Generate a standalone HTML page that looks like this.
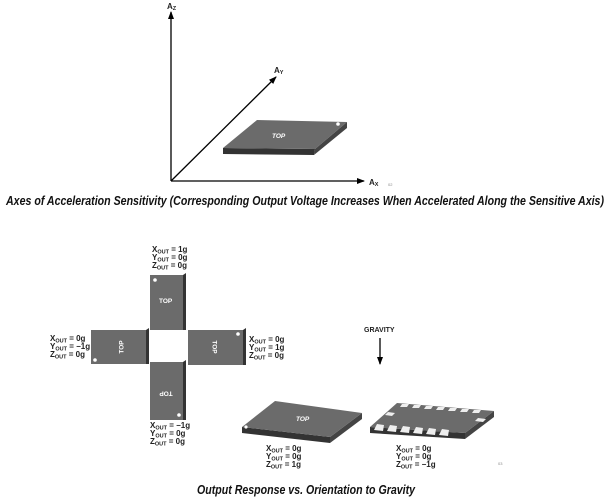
<!DOCTYPE html>
<html><head><meta charset="utf-8"><style>
html,body{margin:0;padding:0;background:#fff;}
svg{display:block;font-family:"Liberation Sans",Arial,sans-serif;}
.l{font-size:8px;font-weight:bold;fill:#222;}
.s{font-size:5.5px;}
.cap{font-size:13px;font-weight:bold;font-style:italic;fill:#111;}
.top{font-size:6.5px;font-weight:bold;fill:#fff;}
</style></head><body>
<svg width="610" height="500" viewBox="0 0 610 500">
<defs>
<marker id="ah" markerWidth="8" markerHeight="6" refX="7" refY="3" orient="auto" markerUnits="userSpaceOnUse"><path d="M0,0 L8,3 L0,6 Z" fill="#000"/></marker>
</defs>
<line x1="171" y1="181" x2="171" y2="12" stroke="#000" stroke-width="1.3" marker-end="url(#ah)"/>
<line x1="171" y1="181" x2="364" y2="181" stroke="#000" stroke-width="1.3" marker-end="url(#ah)"/>
<line x1="171" y1="181" x2="276" y2="77" stroke="#000" stroke-width="1.3" marker-end="url(#ah)"/>
<text x="167" y="9" class="l">A<tspan class="s" dy="1">Z</tspan></text>
<text x="369" y="185" class="l">A<tspan class="s" dy="1">X</tspan></text>
<text x="274" y="73" class="l">A<tspan class="s" dy="1">Y</tspan></text>
<text x="388" y="186" font-size="4" fill="#888">02</text>
<polygon points="223,148 315,149 314,155 223,154" fill="#333"/>
<polygon points="315,149 347,122 347,128 314,155" fill="#444"/>
<polygon points="223,148 257,120 347,122 315,149" fill="#6b6b6b"/>
<circle cx="338" cy="124" r="1.8" fill="#fff"/>
<text x="272" y="138" class="top" font-size="5" font-style="italic">TOP</text>
<text x="305" y="205" class="cap" text-anchor="middle" textLength="598" lengthAdjust="spacingAndGlyphs">Axes of Acceleration Sensitivity (Corresponding Output Voltage Increases When Accelerated Along the Sensitive Axis)</text>
<rect x="150" y="275" width="33" height="55" fill="#6b6b6b"/><polygon points="183,275 186,273 186,330 183,330" fill="#333"/>
<circle cx="155" cy="280" r="1.8" fill="#fff"/><text x="159" y="303" class="top">TOP</text>
<rect x="91" y="330" width="55" height="34" fill="#6b6b6b"/><polygon points="146,330 149,328 149,364 146,364" fill="#333"/>
<circle cx="95" cy="360" r="1.8" fill="#fff"/><text x="121" y="347" class="top" text-anchor="middle" transform="rotate(-90 121 347)" dy="2.5">TOP</text>
<rect x="188" y="330" width="55" height="35" fill="#6b6b6b"/><polygon points="243,330 246,328 246,365 243,365" fill="#333"/>
<circle cx="238" cy="334" r="1.8" fill="#fff"/><text x="215" y="347" class="top" text-anchor="middle" transform="rotate(90 215 347)" dy="2.5">TOP</text>
<rect x="150" y="362" width="33" height="58" fill="#6b6b6b"/><polygon points="183,362 186,360 186,420 183,420" fill="#333"/>
<circle cx="179" cy="415" r="1.8" fill="#fff"/><text x="166" y="394" class="top" text-anchor="middle" transform="rotate(180 166 394)" dy="2.5">TOP</text>
<g class="l">
<text x="152" y="252">X<tspan class="s" dy="1.5">OUT</tspan><tspan dy="-1.5"> = 1g</tspan></text>
<text x="152" y="260">Y<tspan class="s" dy="1.5">OUT</tspan><tspan dy="-1.5"> = 0g</tspan></text>
<text x="152" y="268">Z<tspan class="s" dy="1.5">OUT</tspan><tspan dy="-1.5"> = 0g</tspan></text>
<text x="50" y="341">X<tspan class="s" dy="1.5">OUT</tspan><tspan dy="-1.5"> = 0g</tspan></text>
<text x="50" y="349">Y<tspan class="s" dy="1.5">OUT</tspan><tspan dy="-1.5"> = −1g</tspan></text>
<text x="50" y="357">Z<tspan class="s" dy="1.5">OUT</tspan><tspan dy="-1.5"> = 0g</tspan></text>
<text x="249" y="342">X<tspan class="s" dy="1.5">OUT</tspan><tspan dy="-1.5"> = 0g</tspan></text>
<text x="249" y="350">Y<tspan class="s" dy="1.5">OUT</tspan><tspan dy="-1.5"> = 1g</tspan></text>
<text x="249" y="358">Z<tspan class="s" dy="1.5">OUT</tspan><tspan dy="-1.5"> = 0g</tspan></text>
<text x="150" y="428">X<tspan class="s" dy="1.5">OUT</tspan><tspan dy="-1.5"> = −1g</tspan></text>
<text x="150" y="436">Y<tspan class="s" dy="1.5">OUT</tspan><tspan dy="-1.5"> = 0g</tspan></text>
<text x="150" y="444">Z<tspan class="s" dy="1.5">OUT</tspan><tspan dy="-1.5"> = 0g</tspan></text>
<text x="266" y="451">X<tspan class="s" dy="1.5">OUT</tspan><tspan dy="-1.5"> = 0g</tspan></text>
<text x="266" y="459">Y<tspan class="s" dy="1.5">OUT</tspan><tspan dy="-1.5"> = 0g</tspan></text>
<text x="266" y="467">Z<tspan class="s" dy="1.5">OUT</tspan><tspan dy="-1.5"> = 1g</tspan></text>
<text x="396" y="451">X<tspan class="s" dy="1.5">OUT</tspan><tspan dy="-1.5"> = 0g</tspan></text>
<text x="396" y="459">Y<tspan class="s" dy="1.5">OUT</tspan><tspan dy="-1.5"> = 0g</tspan></text>
<text x="396" y="467">Z<tspan class="s" dy="1.5">OUT</tspan><tspan dy="-1.5"> = −1g</tspan></text>
<text x="364" y="332" font-size="7">GRAVITY</text>
</g>
<line x1="380" y1="338" x2="380" y2="364" stroke="#000" stroke-width="1.3" marker-end="url(#ah)"/>
<polygon points="242,427 330,437 330,443 242,433" fill="#333"/>
<polygon points="330,437 362,413 362,419 330,443" fill="#444"/>
<polygon points="242,427 275,401 362,413 330,437" fill="#6b6b6b"/>
<circle cx="246" cy="427" r="1.6" fill="#fff"/>
<text x="296" y="421" class="top" font-size="5" font-style="italic">TOP</text>
<polygon points="370,427 465,433 465,439 370,433" fill="#333"/>
<polygon points="465,433 494,411 494,417 465,439" fill="#444"/>
<polygon points="370,427 397,403 494,411 465,433" fill="#6b6b6b"/>
<g fill="#eee">
<polygon points="377,424 384,425 383,431 374,430"/><polygon points="390,425 397,426 396,432 387,431"/><polygon points="403,426 410,427 409,433 400,432"/><polygon points="416,427 423,428 422,434 413,433"/><polygon points="429,428 436,429 435,435 426,434"/><polygon points="442,429 449,430 448,436 439,435"/>
<polygon points="402,404 409,404 407,407 400,407"/><polygon points="414,405 421,405 419,408 412,408"/><polygon points="426,406 433,406 431,409 424,409"/><polygon points="438,407 445,407 443,410 436,410"/><polygon points="450,408 457,408 455,411 448,411"/><polygon points="462,409 469,409 467,412 460,412"/><polygon points="474,410 481,410 479,413 472,413"/>
<polygon points="388,412 395,413 392,416 385,415"/><polygon points="478,418 486,419 483,422 475,421"/>
</g>
<text x="498" y="465" font-size="4" fill="#888">03</text>
<text x="306" y="494" class="cap" text-anchor="middle" textLength="218" lengthAdjust="spacingAndGlyphs">Output Response vs. Orientation to Gravity</text>
</svg>
</body></html>
